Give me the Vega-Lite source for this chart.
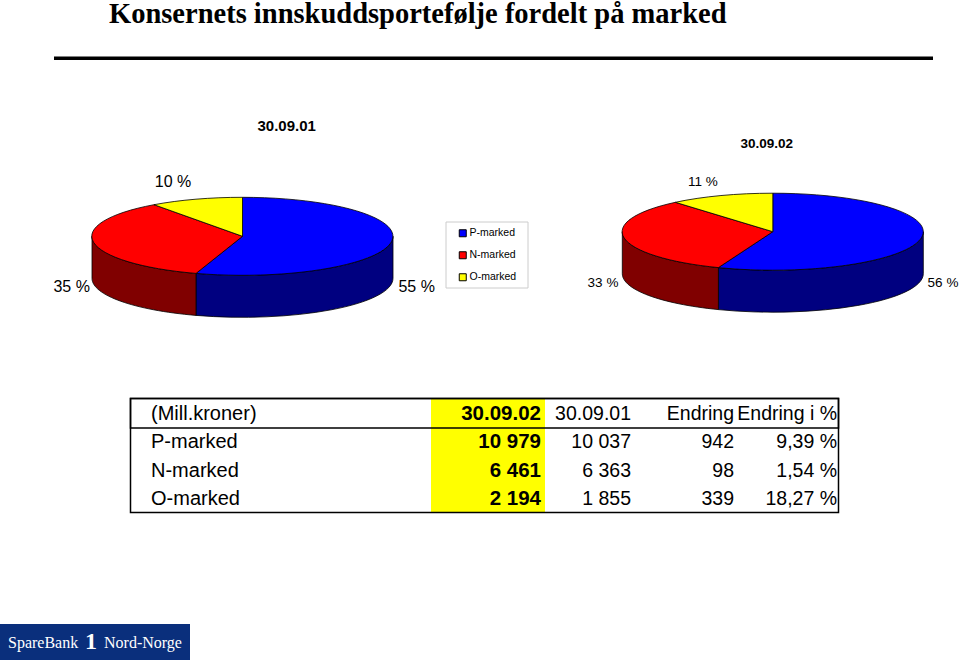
{
"$schema":"https://vega.github.io/schema/vega-lite/v6.json",
"width":960,"height":665,"padding":0,"autosize":{"type":"none"},"background":"white",
"title":{"text":"Konsernets innskuddsportefølje fordelt på marked","anchor":"start","frame":"group","dx":109,"dy":28,"offset":0,"font":"Liberation Serif","fontWeight":"bold","fontSize":28.5,"color":"black"},
"config":{"view":{"stroke":null},"text":{"font":"Liberation Sans","color":"black"}},
"datasets":{
"slices":[
{"pie":"30.09.01","market":"P-marked","share":55,"label":"55 %","key":"01P"},
{"pie":"30.09.01","market":"N-marked","share":35,"label":"35 %","key":"01N"},
{"pie":"30.09.01","market":"O-marked","share":10,"label":"10 %","key":"01O"},
{"pie":"30.09.02","market":"P-marked","share":56,"label":"56 %","key":"02P"},
{"pie":"30.09.02","market":"N-marked","share":33,"label":"33 %","key":"02N"},
{"pie":"30.09.02","market":"O-marked","share":11,"label":"11 %","key":"02O"}
],
"table":[
{"row":"Header","column":"Marked","text":"(Mill.kroner)"},
{"row":"Header","column":"30.09.02","text":"30.09.02"},
{"row":"Header","column":"30.09.01","text":"30.09.01"},
{"row":"Header","column":"Endring","text":"Endring"},
{"row":"Header","column":"Endring i %","text":"Endring i %"},
{"row":"P-marked","column":"Marked","text":"P-marked"},
{"row":"P-marked","column":"30.09.02","text":"10 979"},
{"row":"P-marked","column":"30.09.01","text":"10 037"},
{"row":"P-marked","column":"Endring","text":"942"},
{"row":"P-marked","column":"Endring i %","text":"9,39 %"},
{"row":"N-marked","column":"Marked","text":"N-marked"},
{"row":"N-marked","column":"30.09.02","text":"6 461"},
{"row":"N-marked","column":"30.09.01","text":"6 363"},
{"row":"N-marked","column":"Endring","text":"98"},
{"row":"N-marked","column":"Endring i %","text":"1,54 %"},
{"row":"O-marked","column":"Marked","text":"O-marked"},
{"row":"O-marked","column":"30.09.02","text":"2 194"},
{"row":"O-marked","column":"30.09.01","text":"1 855"},
{"row":"O-marked","column":"Endring","text":"339"},
{"row":"O-marked","column":"Endring i %","text":"18,27 %"}
]
},
"layer":[
{"data":{"values":[{"part":"rule"}]},"mark":{"type":"rect","fill":"black"},
 "encoding":{"x":{"field":"part","type":"nominal","axis":null,"scale":{"type":"band","domain":["rule"],"range":[54,933],"padding":0}},
 "y":{"field":"part","type":"nominal","axis":null,"scale":{"type":"band","domain":["rule"],"range":[56.5,60],"padding":0}}}},
{"data":{"name":"slices"},"transform":[{"filter":"datum.market !== 'O-marked'"}],
 "mark":{"type":"point","filled":true,"size":4,"opacity":1,"stroke":"black","strokeWidth":0.8},
 "encoding":{
 "x":{"field":"pie","type":"nominal","axis":null,"scale":{"type":"point","domain":["30.09.01","30.09.02"],"range":[242.5,772.8],"padding":0}},
 "y":{"field":"pie","type":"nominal","axis":null,"scale":{"type":"point","domain":["30.09.01","30.09.02"],"range":[236.3,231.7],"padding":0}},
 "color":{"field":"market","type":"nominal","legend":null,"scale":{"domain":["P-marked","N-marked"],"range":["#000080","#800000"]}},
 "shape":{"field":"key","type":"nominal","legend":null,"scale":{"domain":["01P","01N","02P","02N"],"range":[
 "M150.5,0 A150.5,39 0 0 1 -46.5,37.1 L-46.5,79.1 A150.5,39 0 0 0 150.5,42 Z",
 "M-46.5,37.1 A150.5,39 0 0 1 -150.5,0 L-150.5,42 A150.5,39 0 0 0 -46.5,79.1 Z",
 "M150.5,0 A150.5,38.5 0 0 1 -54.4,35.9 L-54.4,77.9 A150.5,38.5 0 0 0 150.5,42 Z",
 "M-54.4,35.9 A150.5,38.5 0 0 1 -150.5,0 L-150.5,42 A150.5,38.5 0 0 0 -54.4,77.9 Z"]}}}},
{"data":{"name":"slices"},
 "mark":{"type":"point","filled":true,"size":4,"opacity":1,"stroke":"black","strokeWidth":0.8},
 "encoding":{
 "x":{"field":"pie","type":"nominal","axis":null,"scale":{"type":"point","domain":["30.09.01","30.09.02"],"range":[242.5,772.8],"padding":0}},
 "y":{"field":"pie","type":"nominal","axis":null,"scale":{"type":"point","domain":["30.09.01","30.09.02"],"range":[236.3,231.7],"padding":0}},
 "color":{"field":"market","type":"nominal","scale":{"domain":["P-marked","N-marked","O-marked"],"range":["#0000ff","#ff0000","#ffff00"]},
  "legend":{"title":null,"orient":"none","legendX":457.5,"legendY":228,"padding":0,"symbolType":"square","symbolSize":49,"symbolStrokeColor":"black","symbolStrokeWidth":1,"symbolOpacity":1,"labelFont":"Liberation Sans","labelFontSize":10.5,"labelColor":"black","labelOffset":1.5,"rowPadding":10}},
 "shape":{"field":"key","type":"nominal","legend":null,"scale":{"domain":["01P","01N","01O","02P","02N","02O"],"range":[
 "M0,0 L0,-39 A150.5,39 0 1 1 -46.5,37.1 Z",
 "M0,0 L-46.5,37.1 A150.5,39 0 0 1 -88.5,-31.6 Z",
 "M0,0 L-88.5,-31.6 A150.5,39 0 0 1 0,-39 Z",
 "M0,0 L0,-38.5 A150.5,38.5 0 1 1 -54.4,35.9 Z",
 "M0,0 L-54.4,35.9 A150.5,38.5 0 0 1 -97.4,-29.4 Z",
 "M0,0 L-97.4,-29.4 A150.5,38.5 0 0 1 0,-38.5 Z"]}}}},
{"data":{"values":[{"part":"legend"}]},"mark":{"type":"rect","fill":null,"stroke":"#cccccc","strokeWidth":1},
 "encoding":{"x":{"field":"part","type":"nominal","axis":null,"scale":{"type":"band","domain":["legend"],"range":[446,528],"padding":0}},
 "y":{"field":"part","type":"nominal","axis":null,"scale":{"type":"band","domain":["legend"],"range":[222,288],"padding":0}}}},
{"data":{"name":"slices"},"transform":[{"filter":"datum.market === 'O-marked'"}],"mark":{"type":"text","align":"center","baseline":"middle"},
 "encoding":{"text":{"field":"label"},
 "x":{"field":"pie","type":"nominal","axis":null,"scale":{"type":"point","domain":["30.09.01","30.09.02"],"range":[173,703],"padding":0}},
 "y":{"field":"pie","type":"nominal","axis":null,"scale":{"type":"point","domain":["30.09.01","30.09.02"],"range":[182,182],"padding":0}},
 "size":{"field":"pie","type":"ordinal","legend":null,"scale":{"domain":["30.09.01","30.09.02"],"range":[16,13.5]}}}},
{"data":{"name":"slices"},"transform":[{"filter":"datum.market === 'N-marked'"}],"mark":{"type":"text","align":"center","baseline":"middle"},
 "encoding":{"text":{"field":"label"},
 "x":{"field":"pie","type":"nominal","axis":null,"scale":{"type":"point","domain":["30.09.01","30.09.02"],"range":[71.7,603],"padding":0}},
 "y":{"field":"pie","type":"nominal","axis":null,"scale":{"type":"point","domain":["30.09.01","30.09.02"],"range":[287.3,283.3],"padding":0}},
 "size":{"field":"pie","type":"ordinal","legend":null,"scale":{"domain":["30.09.01","30.09.02"],"range":[16,13.5]}}}},
{"data":{"name":"slices"},"transform":[{"filter":"datum.market === 'P-marked'"}],"mark":{"type":"text","align":"center","baseline":"middle"},
 "encoding":{"text":{"field":"label"},
 "x":{"field":"pie","type":"nominal","axis":null,"scale":{"type":"point","domain":["30.09.01","30.09.02"],"range":[416.7,943],"padding":0}},
 "y":{"field":"pie","type":"nominal","axis":null,"scale":{"type":"point","domain":["30.09.01","30.09.02"],"range":[287,283.3],"padding":0}},
 "size":{"field":"pie","type":"ordinal","legend":null,"scale":{"domain":["30.09.01","30.09.02"],"range":[16,13.5]}}}},
{"data":{"values":[{"pie":"30.09.01"},{"pie":"30.09.02"}]},"mark":{"type":"text","align":"center","baseline":"middle","fontWeight":"bold"},
 "encoding":{"text":{"field":"pie"},
 "x":{"field":"pie","type":"nominal","axis":null,"scale":{"type":"point","domain":["30.09.01","30.09.02"],"range":[286.7,766.7],"padding":0}},
 "y":{"field":"pie","type":"nominal","axis":null,"scale":{"type":"point","domain":["30.09.01","30.09.02"],"range":[125.7,144.3],"padding":0}},
 "size":{"field":"pie","type":"ordinal","legend":null,"scale":{"domain":["30.09.01","30.09.02"],"range":[15,13.5]}}}},
{"data":{"values":[{"part":"highlight"}]},"mark":{"type":"rect","fill":"#ffff00"},
 "encoding":{"x":{"field":"part","type":"nominal","axis":null,"scale":{"type":"band","domain":["highlight"],"range":[431,545],"padding":0}},
 "y":{"field":"part","type":"nominal","axis":null,"scale":{"type":"band","domain":["highlight"],"range":[398,513],"padding":0}}}},
{"data":{"values":[{"part":"frame"}]},"mark":{"type":"rect","fill":null,"stroke":"black","strokeWidth":1.5},
 "encoding":{"x":{"field":"part","type":"nominal","axis":null,"scale":{"type":"band","domain":["frame"],"range":[130.5,838.5],"padding":0}},
 "y":{"field":"part","type":"nominal","axis":null,"scale":{"type":"band","domain":["frame"],"range":[398.5,512.5],"padding":0}}}},
{"data":{"values":[{"part":"header"}]},"mark":{"type":"rect","fill":null,"stroke":"black","strokeWidth":1.5},
 "encoding":{"x":{"field":"part","type":"nominal","axis":null,"scale":{"type":"band","domain":["header"],"range":[130.5,838.5],"padding":0}},
 "y":{"field":"part","type":"nominal","axis":null,"scale":{"type":"band","domain":["header"],"range":[398.5,428],"padding":0}}}},
{"data":{"name":"table"},"transform":[{"filter":"datum.column === 'Marked'"}],"mark":{"type":"text","align":"left","baseline":"middle","fontSize":20},
 "encoding":{"text":{"field":"text"},
 "x":{"field":"column","type":"nominal","axis":null,"scale":{"type":"point","domain":["Marked"],"range":[151,151],"padding":0}},
 "y":{"field":"row","type":"nominal","axis":null,"scale":{"type":"point","domain":["Header","P-marked","N-marked","O-marked"],"range":[414,499],"padding":0}}}},
{"data":{"name":"table"},"transform":[{"filter":"datum.column === '30.09.02'"}],"mark":{"type":"text","align":"right","baseline":"middle","fontSize":20.5,"fontWeight":"bold"},
 "encoding":{"text":{"field":"text"},
 "x":{"field":"column","type":"nominal","axis":null,"scale":{"type":"point","domain":["30.09.02"],"range":[541,541],"padding":0}},
 "y":{"field":"row","type":"nominal","axis":null,"scale":{"type":"point","domain":["Header","P-marked","N-marked","O-marked"],"range":[414,499],"padding":0}}}},
{"data":{"name":"table"},"transform":[{"filter":"datum.column !== '30.09.02' && datum.column !== 'Marked'"}],"mark":{"type":"text","align":"right","baseline":"middle","fontSize":19.5},
 "encoding":{"text":{"field":"text"},
 "x":{"field":"column","type":"nominal","axis":null,"scale":{"type":"point","domain":["30.09.01","Endring","Endring i %"],"range":[631,837],"padding":0}},
 "y":{"field":"row","type":"nominal","axis":null,"scale":{"type":"point","domain":["Header","P-marked","N-marked","O-marked"],"range":[414,499],"padding":0}}}},
{"data":{"values":[{"part":"logo"}]},"mark":{"type":"rect","fill":"#0a2f7c"},
 "encoding":{"x":{"field":"part","type":"nominal","axis":null,"scale":{"type":"band","domain":["logo"],"range":[0,190],"padding":0}},
 "y":{"field":"part","type":"nominal","axis":null,"scale":{"type":"band","domain":["logo"],"range":[624,660],"padding":0}}}},
{"data":{"values":[{"word":"SpareBank"},{"word":"Nord-Norge"}]},"mark":{"type":"text","align":"left","baseline":"middle","font":"Liberation Serif","fontSize":16,"color":"white"},
 "encoding":{"text":{"field":"word"},
 "x":{"field":"word","type":"nominal","axis":null,"scale":{"type":"point","domain":["SpareBank","Nord-Norge"],"range":[8,104],"padding":0}},
 "y":{"field":"word","type":"nominal","axis":null,"scale":{"type":"point","domain":["SpareBank","Nord-Norge"],"range":[643,643],"padding":0}}}},
{"data":{"values":[{"word":"1"}]},"mark":{"type":"text","align":"center","baseline":"middle","font":"Liberation Serif","fontWeight":"bold","fontSize":24,"color":"white"},
 "encoding":{"text":{"field":"word"},
 "x":{"field":"word","type":"nominal","axis":null,"scale":{"type":"point","domain":["1"],"range":[91,91],"padding":0}},
 "y":{"field":"word","type":"nominal","axis":null,"scale":{"type":"point","domain":["1"],"range":[642,642],"padding":0}}}}
],
"resolve":{"scale":{"x":"independent","y":"independent","color":"independent","shape":"independent","size":"independent"}}
}
